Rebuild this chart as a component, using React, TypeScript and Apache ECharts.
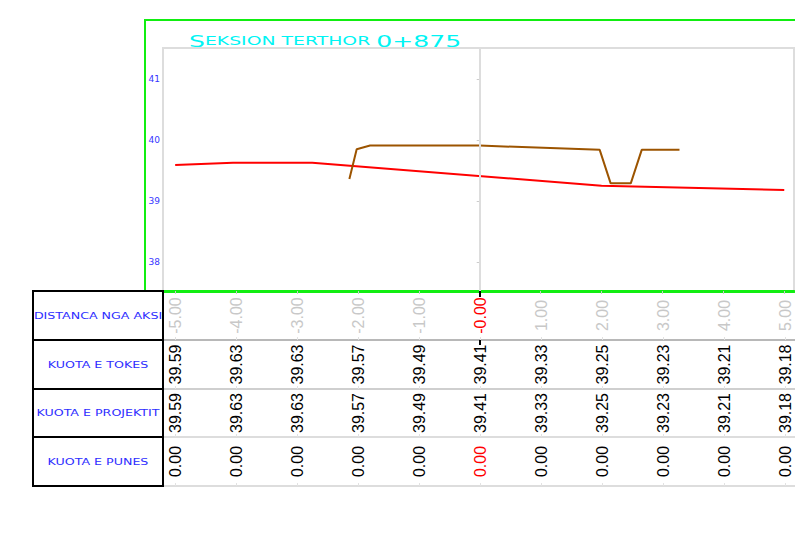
import React, { useEffect, useRef } from "react";
import * as echarts from "echarts";

// ---- data ----
const distances = [-5, -4, -3, -2, -1, 0, 1, 2, 3, 4, 5];
const groundLevels = [39.59, 39.63, 39.63, 39.57, 39.49, 39.41, 39.33, 39.25, 39.23, 39.21, 39.18];
const designLevels = [39.59, 39.63, 39.63, 39.57, 39.49, 39.41, 39.33, 39.25, 39.23, 39.21, 39.18];
const workDepths = [0, 0, 0, 0, 0, 0, 0, 0, 0, 0, 0];
const yTickValues = [38, 39, 40, 41];
const groundProfile = [
  [-5, 39.59],
  [-4.05, 39.63],
  [-2.75, 39.63],
  [2, 39.25],
  [5, 39.18],
];
const projectProfile = [
  [-2.14, 39.36],
  [-2.02, 39.85],
  [-1.8, 39.91],
  [0, 39.91],
  [1.97, 39.84],
  [2.15, 39.29],
  [2.48, 39.29],
  [2.66, 39.84],
  [3.28, 39.84],
];
const rowLabels = ["DISTANCA NGA AKSI", "KUOTA E TOKES", "KUOTA E PROJEKTIT", "KUOTA E PUNES"];
const titleBig1 = "S";
const titleSmall = "EKSION TERTHOR ";
const titleBig2 = "0+875";

const X_MIN = -5.2;
const X_MAX = 5.16;
const Y_MIN = 37.525;
const Y_MAX = 41.51;
const GRID_LEFT = 163;
const GRID_WIDTH = 631;

const rows = [
  { top: 291, h: 49, line: "#b8b8b8" },
  { top: 340, h: 49, line: "#cfcfcf" },
  { top: 389, h: 48, line: "#dddddd" },
  { top: 437, h: 49, line: "#dddddd" },
];

const numFont = "'Liberation Sans', Arial, sans-serif";
const wideFont = "'DejaVu Sans', sans-serif";

function rowFormatter(rowIdx: number) {
  return (v: number) => {
    const i = distances.indexOf(Math.round(v));
    if (rowIdx === 0) {
      return v === 0 ? "{r|-0.00}" : v.toFixed(2);
    }
    if (rowIdx === 1) return groundLevels[i].toFixed(2);
    if (rowIdx === 2) return designLevels[i].toFixed(2);
    const s = workDepths[i].toFixed(2);
    return distances[i] === 0 ? "{r|" + s + "}" : s;
  };
}

function buildOption() {
  const grids: any[] = [
    {
      left: GRID_LEFT,
      top: 48,
      width: GRID_WIDTH,
      height: 243,
      show: true,
      borderColor: "#dddddd",
      borderWidth: 2,
      backgroundColor: "transparent",
    },
  ];
  const xAxes: any[] = [
    {
      type: "value",
      gridIndex: 0,
      min: X_MIN,
      max: X_MAX,
      position: "bottom",
      axisLine: { show: true, onZero: false, lineStyle: { color: "#11ee11", width: 3 } },
      axisTick: { show: true, customValues: distances, length: 3, lineStyle: { color: "#cccccc" } },
      axisLabel: { show: false },
      splitLine: { show: false },
    },
    {
      type: "value",
      gridIndex: 0,
      min: X_MIN,
      max: X_MAX,
      position: "bottom",
      axisLine: { show: false, onZero: false },
      axisTick: { show: true, customValues: [0], length: 6, lineStyle: { color: "#000000", width: 2 } },
      axisLabel: { show: false },
      splitLine: { show: false },
    },
  ];
  const yAxes: any[] = [
    {
      type: "value",
      gridIndex: 0,
      min: Y_MIN,
      max: Y_MAX,
      axisLine: { show: true, lineStyle: { color: "#dddddd", width: 2 } },
      axisTick: { show: true, customValues: yTickValues, length: 3, lineStyle: { color: "#cccccc" } },
      axisLabel: {
        show: true,
        customValues: yTickValues,
        color: "#3636ff",
        fontSize: 9,
        fontFamily: wideFont,
        margin: 3,
      },
      splitLine: { show: false },
    },
  ];

  rows.forEach((r, k) => {
    grids.push({ left: GRID_LEFT, top: r.top, width: GRID_WIDTH + 2, height: r.h, show: false });
    xAxes.push({
      type: "value",
      gridIndex: k + 1,
      min: X_MIN,
      max: X_MAX,
      position: "bottom",
      axisLine: { show: true, onZero: false, lineStyle: { color: r.line, width: 2 } },
      axisTick: { show: true, inside: true, customValues: distances, length: 3, lineStyle: { color: "#e2e2e2" } },
      axisLabel: {
        show: true,
        customValues: distances,
        inside: true,
        margin: r.h / 2,
        rotate: 90,
        align: "center",
        verticalAlign: "middle",
        fontSize: 16,
        fontFamily: numFont,
        color: k === 0 ? "#c8c8c8" : "#000000",
        formatter: rowFormatter(k),
        rich: { r: { color: "#ff0000", fontSize: 16, fontFamily: numFont } },
      },
      splitLine: { show: false },
    });
    yAxes.push({ type: "value", gridIndex: k + 1, show: false, min: 0, max: 1 });
  });
  // black tick at axis centre on row separator
  xAxes.push({
    type: "value",
    gridIndex: 1,
    min: X_MIN,
    max: X_MAX,
    position: "bottom",
    axisLine: { show: false, onZero: false },
    axisTick: { show: true, customValues: [0], length: 5, lineStyle: { color: "#000000", width: 2 } },
    axisLabel: { show: false },
    splitLine: { show: false },
  });

  const graphics: any[] = [
    {
      type: "rect",
      z: -10,
      shape: { x: 145, y: 20, width: 700, height: 271 },
      style: { fill: "none", stroke: "#11ee11", lineWidth: 2 },
      silent: true,
    },
    {
      type: "text",
      x: 189,
      y: 41,
      scaleX: 1.57,
      z: 10,
      style: {
        text: "{b|" + titleBig1 + "}{s|" + titleSmall + "}{b|" + titleBig2 + "}",
        align: "left",
        verticalAlign: "middle",
        textAlign: "left",
        textVerticalAlign: "middle",
        rich: {
          b: { fontSize: 16, fontFamily: wideFont, fill: "#00f4f4", color: "#00f4f4" },
          s: { fontSize: 12, fontFamily: wideFont, fill: "#00f4f4", color: "#00f4f4" },
        },
        fill: "#00f4f4",
      },
    },
  ];
  rows.forEach((r, k) => {
    graphics.push({
      type: "rect",
      z: 20,
      shape: { x: 33, y: r.top, width: 130, height: r.h },
      style: { fill: "#ffffff", stroke: "#000000", lineWidth: 2 },
    });
    graphics.push({
      type: "text",
      z: 21,
      x: 98,
      y: r.top + r.h / 2,
      scaleX: 1.58,
      style: {
        text: rowLabels[k],
        font: "8px " + wideFont,
        fill: "#2e2eff",
        align: "center",
        verticalAlign: "middle",
        textAlign: "center",
        textVerticalAlign: "middle",
      },
    });
  });

  return {
    animation: false,
    backgroundColor: "#ffffff",
    grid: grids,
    xAxis: xAxes,
    yAxis: yAxes,
    graphic: graphics,
    series: [
      {
        type: "line",
        xAxisIndex: 0,
        yAxisIndex: 0,
        data: groundProfile,
        symbol: "none",
        lineStyle: { color: "#ff0000", width: 2 },
        z: 3,
        markLine: {
          silent: true,
          symbol: ["none", "none"],
          label: { show: false },
          lineStyle: { color: "#dddddd", width: 2, type: "solid" },
          data: [{ xAxis: 0 }],
        },
      },
      {
        type: "line",
        xAxisIndex: 0,
        yAxisIndex: 0,
        data: projectProfile,
        symbol: "none",
        lineStyle: { color: "#9c5400", width: 2 },
        z: 4,
      },
    ],
  };
}

export default function App() {
  const ref = useRef<HTMLDivElement>(null);
  useEffect(() => {
    if (!ref.current) return;
    const chart = echarts.init(ref.current, null, { renderer: "svg" });
    chart.setOption(buildOption() as any);
    return () => chart.dispose();
  }, []);
  return (
    <div
      ref={ref}
      style={{ position: "absolute", left: 0, top: 0, width: 795, height: 536, overflow: "hidden" }}
    />
  );
}
